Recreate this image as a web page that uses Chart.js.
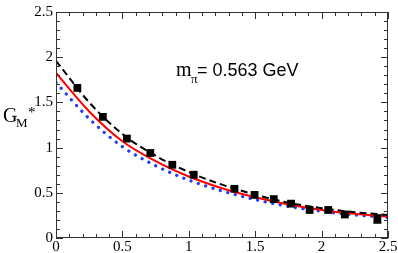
<!DOCTYPE html>
<html>
<head>
<meta charset="utf-8">
<script src="https://cdn.jsdelivr.net/npm/chart.js@4.4.1/dist/chart.umd.min.js"></script>
<style>
  html, body { margin: 0; padding: 0; background: #fff; }
  #wrap { width: 398px; height: 253px; }
</style>
</head>
<body>
<div id="wrap"><canvas id="gmChart"></canvas></div>
<script>
// lattice points (Q^2 in GeV^2, G_M*)
const latQ2 = [0.161, 0.353, 0.534, 0.71, 0.876, 1.037, 1.344, 1.495, 1.64, 1.77, 1.91, 2.05, 2.175, 2.42];
const latGM = [1.66, 1.34, 1.10, 0.94, 0.81, 0.70, 0.544, 0.477, 0.43, 0.38, 0.31, 0.31, 0.26, 0.21];
const latErr = [0, 0, 0, 0, 0, 0, 0, 0, 0, 0, 0, 0, 0, 0.045];

// curves
const curveQ2 = [0, 0.25, 0.5, 0.75, 1.0, 1.25, 1.5, 1.75, 2.0, 2.25, 2.5];
const dashedGM = [1.96, 1.50, 1.15, 0.91, 0.73, 0.59, 0.48, 0.39, 0.33, 0.285, 0.255];
const solidGM = [1.825, 1.40, 1.07, 0.85, 0.68, 0.55, 0.45, 0.37, 0.31, 0.267, 0.235];
const dottedGM = [1.72, 1.32, 1.01, 0.80, 0.64, 0.52, 0.425, 0.35, 0.295, 0.255, 0.225];

const toXY = (xs, ys) => xs.map((x, i) => ({x: x, y: ys[i]}));
const fmtTick = v => String(+v.toFixed(1));

// frame with inward ticks, error bars, labels
const framePlugin = {
  id: 'frame',
  afterDatasetsDraw(chart) {
    const {ctx, scales: {x, y}} = chart;
    ctx.save();
    // error bars
    ctx.strokeStyle = '#000';
    ctx.lineWidth = 1.2;
    latErr.forEach((e, i) => {
      if (!e) return;
      const px = x.getPixelForValue(latQ2[i]);
      const y1 = y.getPixelForValue(latGM[i] - e);
      const y2 = y.getPixelForValue(latGM[i] + e);
      ctx.beginPath();
      ctx.moveTo(px, y1); ctx.lineTo(px, y2);
      ctx.moveTo(px - 4, y1); ctx.lineTo(px + 4, y1);
      ctx.moveTo(px - 4, y2); ctx.lineTo(px + 4, y2);
      ctx.stroke();
    });
    ctx.restore();
  },
  afterDraw(chart) {
    const {ctx, chartArea: {left, right, top, bottom}, scales: {x, y}} = chart;
    ctx.save();
    ctx.strokeStyle = '#333';
    ctx.lineWidth = 1;
    ctx.strokeRect(left + 0.5, top + 0.5, right - left - 1, bottom - top - 1);
    ctx.beginPath();
    for (let k = 0; k <= 25; k++) {
      const v = k / 10;
      const len = (k % 5 === 0) ? 7 : 4;
      const px = Math.round(x.getPixelForValue(v)) + 0.5;
      const py = Math.round(y.getPixelForValue(v)) + 0.5;
      ctx.moveTo(px, bottom); ctx.lineTo(px, bottom - len);
      ctx.moveTo(px, top); ctx.lineTo(px, top + len);
      ctx.moveTo(left, py); ctx.lineTo(left + len, py);
      ctx.moveTo(right, py); ctx.lineTo(right - len, py);
    }
    ctx.stroke();

    // y axis title  G_M *
    ctx.fillStyle = '#000';
    ctx.textBaseline = 'alphabetic';
    ctx.font = '20px "Liberation Serif"';
    ctx.fillText('G', 3, 122);
    ctx.font = '13px "Liberation Serif"';
    ctx.fillText('M', 16, 127);
    ctx.font = '15px "Liberation Serif"';
    ctx.fillText('*', 28, 117);

    // annotation
    ctx.font = '20px "Liberation Serif"';
    ctx.fillText('m', 176, 76);
    ctx.font = '13px "Liberation Serif"';
    ctx.fillText('\u03c0', 191, 83);
    ctx.font = '18px "Liberation Sans"';
    ctx.fillText('= 0.563 GeV', 197, 76);
    ctx.restore();
  }
};

const ctx = document.getElementById('gmChart');
const tickFont = {family: '"Liberation Serif"', size: 15};

new Chart(ctx, {
  type: 'scatter',
  data: {
    datasets: [
      {
        label: 'lattice',
        data: toXY(latQ2, latGM),
        pointStyle: 'rect',
        pointRadius: 5.5,
        backgroundColor: '#000',
        borderColor: '#000',
        borderWidth: 0,
        showLine: false,
      },
      {
        label: 'dashed',
        data: toXY(curveQ2, dashedGM),
        showLine: true,
        borderColor: '#000',
        borderWidth: 2,
        borderDash: [7, 4],
        pointRadius: 0,
        cubicInterpolationMode: 'monotone',
      },
      {
        label: 'solid',
        data: toXY(curveQ2, solidGM),
        showLine: true,
        borderColor: '#ff0000',
        borderWidth: 2,
        pointRadius: 0,
        cubicInterpolationMode: 'monotone',
      },
      {
        label: 'dotted',
        data: toXY(curveQ2, dottedGM),
        showLine: true,
        borderColor: '#1f3cff',
        borderWidth: 3.2,
        borderCapStyle: 'round',
        borderDash: [0.1, 7.6],
        pointRadius: 0,
        cubicInterpolationMode: 'monotone',
      },
    ],
  },
  options: {
    responsive: true,
    maintainAspectRatio: false,
    animation: false,
    layout: {padding: {top: 5, right: 10, left: 0, bottom: 0}},
    scales: {
      x: {
        type: 'linear',
        min: 0,
        max: 2.5,
        grid: {display: false, drawTicks: false},
        border: {display: false},
        ticks: {stepSize: 0.5, font: tickFont, color: '#000', padding: 0, maxRotation: 0, callback: fmtTick},
        afterFit: s => { s.height = 15; },
      },
      y: {
        min: 0,
        max: 2.5,
        grid: {display: false, drawTicks: false},
        border: {display: false},
        ticks: {stepSize: 0.5, font: tickFont, color: '#000', padding: 3, callback: fmtTick},
        afterFit: s => { s.width = 56; },
      },
    },
    plugins: {
      legend: {display: false},
      tooltip: {enabled: false},
    },
  },
  plugins: [framePlugin],
});
</script>
</body>
</html>
